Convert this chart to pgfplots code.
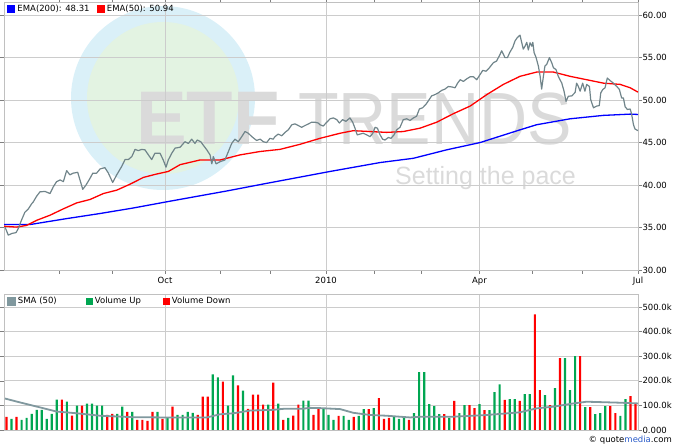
\documentclass[border=0pt]{standalone}
\usepackage{pgfplots}
\pgfplotsset{compat=1.18}
\usepackage{fontspec}
\setmainfont{DejaVu Sans}
\newfontfamily\wmfont{Liberation Sans}

\definecolor{gridgray}{RGB}{204,204,204}
\definecolor{framegray}{RGB}{192,192,192}
\definecolor{pricegray}{RGB}{112,132,138}
\definecolor{volgreen}{RGB}{0,166,81}
\definecolor{volred}{RGB}{255,0,0}
\definecolor{smagray}{RGB}{128,152,158}
\definecolor{wmblue}{RGB}{218,240,248}
\definecolor{wmgreen}{RGB}{227,243,226}
\definecolor{wmtext}{RGB}{218,218,218}
\definecolor{qmblue}{RGB}{40,90,200}

\pgfplotsset{
  panel/.style={
    scale only axis, width=634bp, xmin=0, xmax=252,
    axis line style={framegray},
    grid style={gridgray, line width=0.8bp},
    xmajorgrids, ymajorgrids,
    xtick={64,128,189,252},
    yticklabel pos=right,
    tick align=outside,
    tick style={gray, line width=0.6bp},
    major tick length=4bp, minor tick length=4bp,
    every tick label/.append style={font=\fontsize{8.5bp}{10bp}\selectfont, text=black},
    yticklabel style={xshift=-3bp},
    /pgf/number format/assume math mode=true,
    legend cell align=left,
  },
}

\begin{document}
\begin{tikzpicture}
\path[use as bounding box] (0,0) rectangle (673bp,445bp);

% watermark
\fill[wmblue] (163bp,347bp) circle (92bp);
\fill[wmgreen] (163bp,347bp) circle (76bp);
\node[anchor=base west, inner sep=0, text=wmtext, font=\wmfont\bfseries\fontsize{76bp}{76bp}\selectfont] at (136bp,300bp) {ETF};
\node[anchor=base west, inner sep=0, text=wmtext, font=\wmfont\fontsize{74bp}{74bp}\selectfont, xscale=0.9] at (298bp,300bp) {TRENDS};
\node[anchor=base west, inner sep=0, text=wmtext, font=\wmfont\fontsize{25bp}{25bp}\selectfont] at (395bp,260bp) {Setting the pace};

% price panel
\begin{axis}[panel, name=top, at={(4bp,175bp)}, anchor=south west,
  height=268bp, ymin=30, ymax=61.55,
  ytick={30,35,40,45,50,55,60},
  minor xtick={22,43,86,106,147,166,210,230},
  xticklabels={Oct,2010,Apr,Jul},
  yticklabel style={/pgf/number format/.cd, fixed, fixed zerofill, precision=2},
  legend style={draw=none, fill=none, at={(0,1)}, anchor=north west, xshift=2bp,
    legend columns=-1, inner sep=1bp, font=\fontsize{8.5bp}{10bp}\selectfont,
    /tikz/every even column/.append style={column sep=5bp}},
  legend image code/.code={\fill[#1] (0bp,-3.5bp) rectangle (7bp,3.5bp);},
]
\addplot[blue, line width=1.3bp] coordinates {
  (0,35.35) (10.3,35.35) (24.9,36.05) (38.2,36.65) (51.4,37.3) (66.0,38.1)
  (88.5,39.3) (104.4,40.2) (129.6,41.6) (149.5,42.65) (162.7,43.15)
  (176.0,44.15) (189.2,45.0) (205.1,46.5) (211.7,47.1) (225.0,47.8)
  (238.2,48.2) (248.9,48.35) (252,48.31)
};
\addlegendentry{EMA(200): 48.31}
\addplot[red, line width=1.3bp] coordinates {
  (0,35.15) (5.0,35.05) (9.0,35.25) (13.0,35.85) (18.3,36.45) (23.6,37.2)
  (28.9,37.9) (34.2,38.3) (39.5,39.0) (44.8,39.4) (50.1,40.1) (55.4,40.9)
  (60.7,41.3) (65.3,41.6) (70.0,42.4) (77.9,42.95) (85.9,42.95) (93.8,43.55)
  (101.8,43.95) (109.7,44.2) (117.7,44.8) (125.6,45.5) (133.6,46.1)
  (138.8,46.4) (145.5,46.3) (152.1,46.2) (158.7,46.3) (165.4,46.7)
  (172.0,47.4) (178.6,48.4) (185.3,49.3) (191.9,50.65) (198.5,51.85)
  (205.1,52.8) (211.7,53.3) (218.4,53.3) (225.0,52.8) (231.6,52.4)
  (238.2,52.0) (244.9,51.85) (248.9,51.45) (252,50.94)
};
\addlegendentry{EMA(50): 50.94}
\addplot[pricegray, line width=1.2bp, line join=round, forget plot] coordinates {
  (0.4,35.06) (1.7,34.1) (3.1,34.3) (4.8,34.4) (5.7,34.9) (7.0,35.9)
  (8.3,36.8) (9.7,37.2) (11.0,37.8) (11.6,38.0) (13.0,38.7) (14.3,39.2)
  (16.3,39.25) (18.3,39.0) (19.6,39.8) (20.9,40.4) (22.3,40.6) (23.6,40.4)
  (24.9,41.7) (26.2,41.2) (27.5,41.4) (29.3,41.5) (30.2,40.6) (31.3,39.5)
  (32.6,40.0) (34.2,40.8) (35.3,41.4) (36.8,41.4) (38.2,41.9) (40.1,42.05)
  (41.5,41.4) (43.2,40.3) (44.8,41.2) (46.8,42.2) (48.1,43.0) (49.4,43.0)
  (50.8,43.35) (52.1,44.2) (53.4,44.05) (54.7,44.2) (56.0,44.15)
  (57.4,43.55) (58.7,43.0) (60.0,43.75) (62.0,43.75) (63.3,42.95)
  (64.4,42.1) (65.3,42.95) (66.7,43.75) (68.0,44.35) (70.0,44.45)
  (71.9,45.1) (73.3,44.9) (74.6,45.4) (75.9,44.9) (76.8,45.3) (78.2,45.1)
  (79.2,44.7) (80.6,44.15) (81.9,43.55) (82.6,42.5) (83.2,43.35)
  (84.3,42.5) (85.9,42.75) (87.8,42.95) (89.2,43.95) (90.5,44.9)
  (91.8,45.4) (93.1,45.1) (94.5,45.7) (95.8,46.3) (97.1,46.1) (98.5,45.7)
  (100.4,45.25) (101.8,45.4) (103.1,45.1) (104.4,45.0) (105.7,45.5)
  (107.0,45.4) (107.7,45.7) (109.0,46.0) (110.4,45.8) (111.7,46.2)
  (113.0,46.5) (114.4,47.1) (115.7,47.2) (117.0,47.0) (118.3,46.8)
  (119.6,47.0) (121.0,47.2) (122.3,47.4) (123.6,47.4) (124.9,47.3)
  (125.6,47.1) (126.9,46.95) (128.3,47.4) (129.6,47.8) (130.9,47.9)
  (132.3,47.7) (133.3,47.3) (134.6,47.7) (135.9,47.5) (137.5,47.9)
  (138.6,47.4) (139.5,46.7) (140.4,45.9) (141.5,46.0) (142.8,46.1)
  (144.2,45.9) (145.5,45.7) (146.6,46.1) (147.5,46.8) (148.4,46.7)
  (149.5,45.9) (150.5,45.4) (151.4,45.3) (152.8,45.6) (153.8,45.5)
  (155.0,45.9) (156.1,46.5) (157.4,46.8) (158.7,47.7) (160.1,47.8)
  (161.4,47.6) (162.7,47.9) (164.0,48.1) (165.1,48.95) (166.4,49.1)
  (167.7,49.5) (169.1,50.1) (170.0,50.5) (171.3,50.65) (172.6,50.85)
  (174.0,51.15) (175.3,51.3) (176.6,51.6) (178.0,51.55) (179.3,51.45)
  (180.2,51.95) (181.3,52.4) (182.6,52.2) (183.9,52.5) (185.3,52.75)
  (186.6,52.75) (187.9,52.4) (189.2,53.0) (190.3,53.5) (191.6,53.4)
  (192.9,53.8) (194.5,54.4) (195.8,54.6) (197.2,55.4) (197.8,55.8)
  (198.5,55.4) (199.1,55.0) (200.1,55.0) (201.1,55.65) (202.2,56.2)
  (203.1,56.95) (204.0,57.35) (205.1,57.65) (205.8,56.75) (206.4,56.0)
  (207.1,56.35) (207.8,56.8) (208.4,55.9) (209.1,56.75) (209.8,56.35)
  (210.2,56.8) (210.7,55.6) (211.5,55.0) (212.4,54.0) (213.1,52.8)
  (213.7,51.3) (214.4,52.8) (215.0,54.0) (215.7,54.2) (216.8,55.0)
  (217.7,54.4) (218.4,53.8) (219.4,53.6) (220.3,52.8) (221.7,52.0)
  (222.6,51.05) (223.4,49.85) (224.3,50.45) (225.7,50.5) (227.0,50.9)
  (227.6,52.0) (228.3,51.6) (229.0,51.05) (230.0,52.0) (230.9,51.05)
  (231.6,51.85) (232.7,51.6) (233.2,50.05) (234.3,49.1) (235.6,49.3)
  (236.6,49.35) (237.2,50.85) (238.0,51.25) (238.9,51.45) (239.8,52.6)
  (240.9,52.3) (242.2,52.0) (243.6,51.6) (244.6,51.25) (245.5,50.25)
  (246.2,50.25) (246.9,49.2) (247.8,48.9) (248.9,48.95) (249.5,48.3)
  (250.2,47.1) (250.8,46.6) (252.0,46.4)
};
\end{axis}

% volume panel
\begin{axis}[panel, name=bottom, at={(4bp,15bp)}, anchor=south west,
  height=136bp, ymin=0, ymax=553,
  ytick={0,100,200,300,400,500},
  yticklabels={0.000,100.0k,200.0k,300.0k,400.0k,500.0k},
  xticklabels={}, xtick style={draw=none},
  reverse legend,
  legend style={draw=none, fill=none, at={(0,1)}, anchor=north west, xshift=2bp,
    legend columns=-1, inner sep=1bp, font=\fontsize{8.5bp}{10bp}\selectfont,
    nodes={text width=63bp},
    /tikz/every even column/.append style={column sep=3bp}},
  legend image code/.code={\fill[#1] (0bp,-3.5bp) rectangle (7bp,3.5bp);},
]
\addplot[ybar, bar width=2.2bp, bar shift=0pt, fill=volred, draw=none] coordinates {
  (1,53) (5,53) (23,123) (27,58) (31,99) (41,62) (43,66) (49,74) (53,41)
  (55,41) (57,37) (59,74) (63,45) (67,95) (77,62) (79,136) (81,136)
  (87,197) (93,181) (97,86) (99,144) (101,144) (103,103) (107,193)
  (111,41) (115,58) (117,103) (123,62) (125,86) (133,57) (139,53)
  (145,85) (149,130) (151,45) (153,49) (161,41) (175,65) (179,118)
  (185,101) (187,89) (191,81) (199,122) (205,118) (211,470) (213,162)
  (217,101) (221,292) (229,300) (233,93) (241,97) (243,69) (249,138)
  (251,105)
};
\addlegendentry{Volume Down}
\addplot[ybar, bar width=2.2bp, bar shift=0pt, fill=volgreen, draw=none] coordinates {
  (3,45) (7,41) (9,49) (11,66) (13,82) (15,82) (17,45) (19,66) (21,123)
  (25,115) (29,99) (33,107) (35,107) (37,99) (39,99) (45,66) (47,95)
  (51,74) (61,74) (65,49) (69,62) (71,62) (73,74) (75,70) (83,226)
  (85,214) (89,99) (91,222) (95,160) (105,103) (109,107) (113,49)
  (119,119) (121,119) (127,86) (129,62) (131,41) (135,57) (137,41)
  (141,57) (143,85) (147,89) (155,53) (157,45) (159,49) (163,69)
  (165,235) (167,235) (169,105) (171,97) (173,65) (177,49) (181,69)
  (183,101) (189,105) (193,81) (195,154) (197,186) (201,126) (203,126)
  (207,146) (209,146) (215,142) (219,170) (223,292) (225,162) (227,300)
  (231,93) (235,65) (237,69) (239,97) (245,57) (247,126)
};
\addlegendentry{Volume Up}
\addplot[smagray, line width=1.8bp] coordinates {
  (0.4,128) (6.4,112) (14.3,92) (20.9,75) (28.9,68) (38.2,58) (51.4,52)
  (64.7,51) (80.6,51) (85.9,64) (91.2,68) (97.8,79) (107.0,82) (111.0,86)
  (118.3,86) (121.6,90) (125.6,89) (133.6,85) (138.8,70) (145.5,61)
  (152.1,58) (161.4,51) (165.4,54) (178.6,54) (191.9,61) (205.1,72)
  (211.7,88) (218.4,95) (226.3,108) (231.6,115) (244.9,111) (252,108)
};
\addlegendentry{SMA (50)}
\end{axis}

\node[anchor=south east, inner sep=1bp, font=\fontsize{8.5bp}{10bp}\selectfont]
  at (673bp,0bp) {\textcopyright\ quote{\color{qmblue}media}.com};
\end{tikzpicture}
\end{document}
